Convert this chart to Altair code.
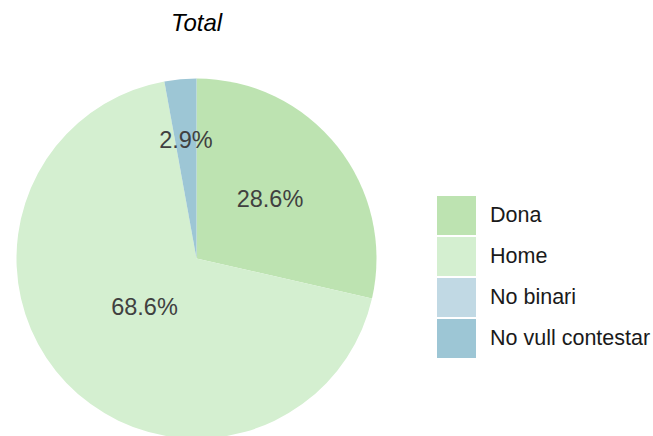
import altair as alt
import pandas as pd

categories = ["Dona", "Home", "No binari", "No vull contestar"]
counts = [10, 24, 0, 1]
colors = ["#bde3b1", "#d4efd0", "#c1d9e4", "#9dc6d5"]

df = pd.DataFrame({"cat": categories, "n": counts})

arc = alt.Chart(df).mark_arc(radius=180).encode(
    theta=alt.Theta("n:Q", stack=True),
    color=alt.Color(
        "cat:N",
        scale=alt.Scale(domain=categories, range=colors),
        legend=alt.Legend(
            title=None,
            orient="none",
            legendX=437,
            legendY=146,
            symbolType="square",
            symbolSize=1521,
            symbolStrokeWidth=0,
            symbolOpacity=1,
            labelFontSize=21.5,
            labelFont="Liberation Sans",
            labelColor="#1a1a1a",
            labelOffset=14,
            rowPadding=2,
            labelLimit=300,
        ),
    ),
    order=alt.Order("cat:N"),
)

labels = (
    alt.Chart(df)
    .transform_joinaggregate(total="sum(n)")
    .transform_window(cum="sum(n)", sort=[alt.SortField("cat")], frame=[None, 0])
    .transform_calculate(
        mid="(datum.cum - datum.n / 2) / datum.total * 2 * PI",
        pct="format(datum.n / datum.total * 100, '.1f') + '%'",
        rad="datum.cat == 'Dona' ? 94 : datum.cat == 'Home' ? 72 : 118",
    )
    .transform_filter("datum.n > 0")
    .mark_text(fontSize=23.5, font="Liberation Sans", color="#404040", align="center", baseline="middle")
    .encode(
        theta=alt.Theta("mid:Q", scale=None),
        radius=alt.Radius("rad:Q", scale=None),
        text="pct:N",
    )
)

chart = (
    alt.layer(arc, labels)
    .properties(
        width=393,
        height=417,
        title=alt.TitleParams(
            "Total", fontSize=24, font="Liberation Sans", fontStyle="italic",
            fontWeight="normal", color="#000000", anchor="middle", offset=14,
        ),
        autosize=alt.AutoSizeParams(type="none"),
        padding={"left": 0, "top": 50, "right": 260, "bottom": 0},
    )
    .configure_view(stroke=None)
)

chart.save("out.html", embed_options={"renderer": "svg", "actions": False})
